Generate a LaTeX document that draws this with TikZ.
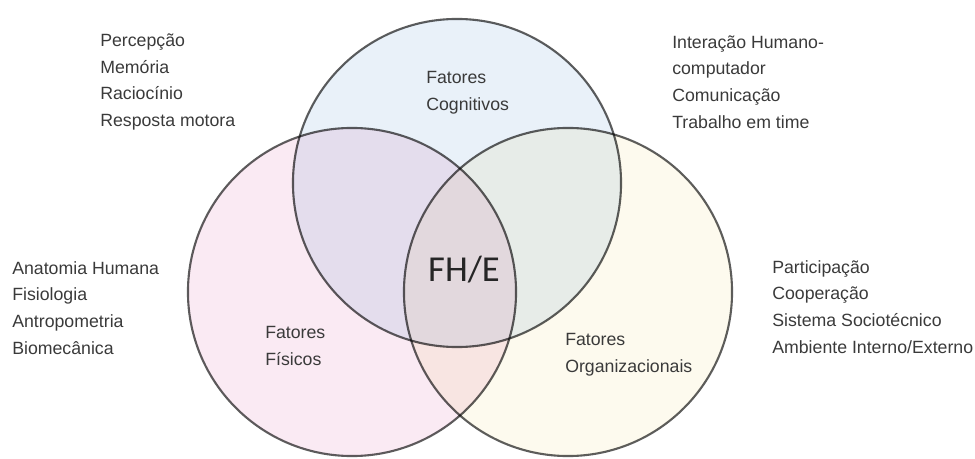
\documentclass[tikz,border=0pt]{standalone}
\usepackage{fontspec}
\setmainfont{Liberation Sans}
\newfontfamily\fhefont{Carlito}
\definecolor{cogblue}{HTML}{E9F1F9}
\definecolor{fispink}{HTML}{FAEAF3}
\definecolor{orgcream}{HTML}{FDFAEE}
\definecolor{linegrey}{HTML}{5E5E5E}
\definecolor{txtgrey}{HTML}{3A3A3A}
\tikzset{
  venn/.style={circle, draw=linegrey, line width=1.5pt, minimum size=8.2cm, inner sep=0pt},
  itemlist/.style={align=left, anchor=west, inner sep=0pt}
}
\begin{document}
\begin{tikzpicture}[x=0.025cm, y=-0.025cm, every node/.style={font=\fontsize{12.6}{19}\selectfont, text=txtgrey}]
    \useasboundingbox (0,0) rectangle (975,459);
    \begin{scope}[blend group=multiply]
        \node[venn, fill=cogblue] (cog) at (457,183) {};
        \node[venn, fill=fispink] (fis) at (352,292) {};
        \node[venn, fill=orgcream] (org) at (568,292) {};
    \end{scope}
    \node[itemlist] (coglabel) at (426,93) {Fatores\\Cognitivos};
    \node[itemlist] (fislabel) at (265,346) {Fatores\\Físicos};
    \node[itemlist] (orglabel) at (565,355) {Fatores\\Organizacionais};
    \node[font=\fhefont\fontsize{26}{30}\selectfont, text=black!85] (fhe) at (464,270) {FH/E};
    \node[itemlist] (itemsnw) at (100,82) {Percepção\\Memória\\Raciocínio\\Resposta motora};
    \node[itemlist] (itemsne) at (672,82) {Interação Humano-\\computador\\Comunicação\\Trabalho em time};
    \node[itemlist] (itemsw) at (12,308) {Anatomia Humana\\Fisiologia\\Antropometria\\Biomecânica};
    \node[itemlist] (itemse) at (772,307) {Participação\\Cooperação\\Sistema Sociotécnico\\Ambiente Interno/Externo};
\end{tikzpicture}
\end{document}
